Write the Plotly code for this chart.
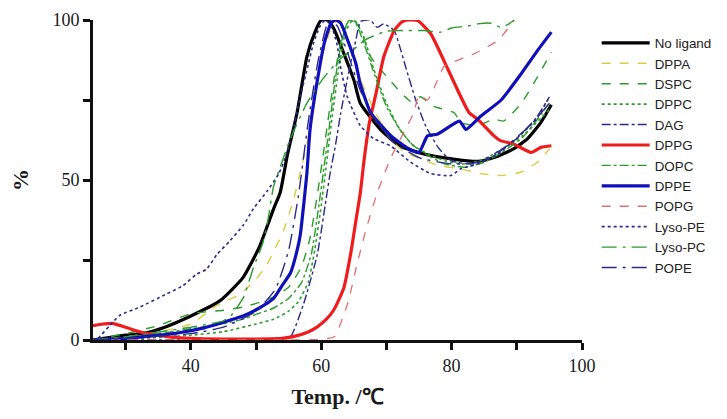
import plotly.graph_objects as go

# ---- data ----
no_ligand_x = [25, 30, 33, 36, 40, 44.5, 48, 50.5, 52.7, 53.7, 54.8, 56.3, 57.8, 59, 60, 61, 62, 63, 65, 66, 69, 72, 76, 80, 84, 86.5, 89.5, 91.7, 93.7, 95.3]
no_ligand_y = [0, 1.5, 2.2, 4, 7.5, 12.3, 19.5, 29, 41, 46, 57.7, 71, 88.5, 96, 100, 100, 97, 92, 81.3, 74, 66, 60.7, 58, 56.6, 55.8, 57, 59.7, 63, 68, 73.5]

dppa_x = [25, 30, 35, 40, 44, 47.6, 50, 51.7, 54.2, 55.8, 56.8, 58.3, 59.8, 61.4, 62.5, 63.2, 64, 66, 68.1, 70.6, 73, 75.5, 78, 81.4, 84.5, 87.6, 90.7, 93.2, 95]
dppa_y = [0, 1, 2.5, 5, 10.8, 14.4, 19, 23.7, 34, 44.2, 52.5, 66, 86.4, 96.7, 100, 99.5, 93.6, 81.3, 72, 62.7, 58.5, 56.5, 54.5, 53.5, 52, 51.4, 52.5, 55.6, 59.7]

dspc_x = [25, 30, 35, 40, 45, 48, 50.6, 52.7, 55, 57, 58.3, 59.3, 60.1, 61, 62, 63, 64, 65, 66, 67.6, 70.6, 73.7, 75.2, 77.3, 80.4, 81.4, 84, 86.5, 88, 90.7, 93.2, 95.3]
dspc_y = [0, 2, 4.5, 8.2, 9.3, 10.3, 11.8, 13.5, 16.5, 23, 32, 44, 55, 68, 82, 93, 99, 100, 97, 88.5, 81, 74.6, 76, 73, 71, 68, 67, 69, 68.4, 74, 82.3, 90]

dppc_x = [25, 30, 35, 40, 45, 50, 52.7, 55, 56.5, 58, 59, 60, 60.8, 61.7, 62.7, 63.7, 64.8, 65.5, 66.5, 68, 70, 72, 74, 76.5, 79, 82, 85, 88, 91, 95]
dppc_y = [0, 0.3, 0.8, 1.5, 2.6, 5, 6.5, 9, 12, 18, 28, 42, 55, 70, 85, 96, 100, 99, 95, 85, 74, 66, 61, 58, 56, 55, 56.5, 60, 64, 72]

dag_x = [25, 40, 50, 54, 55.3, 57.3, 59.4, 60.6, 61.4, 62.2, 63, 64.5, 65.3, 66, 67.5, 68.6, 69.6, 71.2, 72, 73, 74.5, 76, 78, 80, 83, 86, 90, 93, 95]
dag_y = [0, 0, 0, 0.3, 1, 11.3, 26.7, 42, 52.5, 61, 71, 86.4, 93.6, 99.5, 100, 97.7, 98.8, 96.7, 92, 85, 75, 67, 60, 56, 55, 57, 63, 69.5, 76]

dppg_x = [25, 26.5, 28, 29.5, 31, 32.5, 34.8, 37, 40, 45, 50, 54, 56, 58, 59.4, 60.8, 61.9, 62.8, 63.5, 64.5, 65.3, 66, 66.6, 67.4, 68.4, 69.6, 71.2, 72.3, 73.2, 74.8, 76.8, 78.8, 80.9, 82.7, 84, 86.5, 87.5, 89.6, 92.2, 93.7, 95.3]
dppg_y = [4.5, 5, 5.2, 4.3, 3.3, 2.4, 1.5, 0.9, 0.5, 0.3, 0.3, 0.5, 1.2, 2.5, 4.1, 6.5, 9.3, 13, 16.5, 26.7, 37, 46, 56.6, 68, 77, 88.5, 96.7, 99.3, 100, 99.8, 95.7, 87.4, 78.2, 71, 69, 63.8, 62.3, 61.2, 58.6, 60.2, 60.7]

dopc_x = [25, 30, 35, 40, 45, 48, 50, 52.7, 55, 57, 58.5, 59.5, 60.3, 61.2, 62.2, 63.2, 64.3, 65.3, 66.5, 68, 70, 72, 74, 76.5, 79, 82, 85, 88, 91, 95]
dopc_y = [0, 0.8, 2, 3.5, 5.1, 6.5, 8, 10, 13, 18, 27, 40, 52, 66, 82, 94, 100, 99, 93, 84, 73, 66, 61, 57.5, 55, 54, 55.5, 59, 63.5, 74]

dppe_x = [25, 30, 35, 38, 42, 46, 48, 50.5, 52.7, 54, 55.3, 56.3, 56.8, 57.3, 57.8, 58.3, 59.4, 60.5, 61.5, 62.2, 63, 64, 65.3, 66, 67.6, 70.6, 73.2, 75, 76.3, 77.8, 81.2, 82.2, 84.5, 87.6, 90.7, 93.2, 95.3]
dppe_y = [0, 0.5, 1.5, 2.2, 3.8, 6.2, 7.5, 10, 13, 17, 21, 28, 33, 42, 52, 66, 81, 93, 99, 100, 99, 94, 86.5, 80, 71, 64, 60, 58.6, 63.8, 64.3, 68.4, 65.8, 70, 75, 83.3, 90.5, 96.2]

popg_x = [25, 40, 50, 55, 60, 62, 64, 65.5, 66.8, 68.6, 70.6, 72.7, 74.2, 75, 76.3, 77.8, 78.8, 80.9, 83.5, 85.5, 87.1, 88.6, 89.6]
popg_y = [0, 0, 0, 0, 0.2, 1, 11, 23.7, 34, 46, 56.6, 65, 71, 76.5, 75, 81, 85.4, 87.4, 89.5, 91.6, 93.6, 97.2, 100]

lyso_pe_x = [25, 25.5, 27.6, 29.1, 32.2, 36.3, 38.8, 40.9, 42.4, 44, 46, 48.1, 49.6, 51.7, 53.5, 54.5, 55.5, 56.8, 58, 58.8, 59.8, 60.6, 61.5, 62.4, 63, 64, 66, 68, 70.6, 73.7, 76.8, 79.9, 81.4, 84, 87, 90, 93, 95]
lyso_pe_y = [0, 0, 4.6, 7.7, 10.3, 14.4, 17, 20.6, 22.1, 26.7, 31, 36, 41, 46.5, 52, 57, 64, 76, 86, 92.6, 98, 100, 98.5, 92.6, 85, 76, 67, 63, 60.7, 55.6, 52, 51.4, 53.5, 55, 58, 63, 69, 76]

lyso_pc_x = [25, 30, 35, 40, 45, 46, 48.1, 49.6, 51, 51.7, 52.7, 53.7, 55.3, 57.8, 60.4, 63, 65.5, 66.6, 68, 70, 72.2, 75.8, 78.3, 80, 82.7, 84, 86, 87.6, 88.8, 89.6]
lyso_pc_y = [0, 1, 2.5, 4, 6, 7.2, 13.4, 22.6, 30, 36, 48, 54, 63, 74, 82, 88, 91.6, 93.6, 95, 96.5, 96.7, 96.7, 96.2, 97.5, 98.2, 98.8, 99, 97.7, 98.8, 100]

pope_x = [25, 30, 40, 45, 50, 53, 55, 56.5, 58, 59.5, 60.8, 61.5, 62.5, 64, 66, 68, 71, 75, 80, 84, 88, 92, 95]
pope_y = [0, 0.5, 2, 4, 9, 16, 28, 45, 68, 87, 98, 100, 98, 90, 78, 70, 62, 57, 55, 55.5, 60, 67, 74]

x_tick_vals = [30, 40, 50, 60, 70, 80, 90, 100]
x_tick_text = ["", "40", "", "60", "", "80", "", "100"]
y_tick_vals = [0, 25, 50, 75, 100]
y_tick_text = ["0", "", "50", "", "100"]

series = [
    ("No ligand", no_ligand_x, no_ligand_y, "#000000", 3.2, "solid"),
    ("DPPA", dppa_x, dppa_y, "#dccb45", 1.4, "dash"),
    ("DSPC", dspc_x, dspc_y, "#2a9d2a", 1.4, "dash"),
    ("DPPC", dppc_x, dppc_y, "#2a9d2a", 1.6, "dot"),
    ("DAG", dag_x, dag_y, "#2a2a8c", 1.4, "dashdot"),
    ("DPPG", dppg_x, dppg_y, "#ee1c1c", 3.2, "solid"),
    ("DOPC", dopc_x, dopc_y, "#2a9d2a", 1.4, "dashdot"),
    ("DPPE", dppe_x, dppe_y, "#1010b8", 3.2, "solid"),
    ("POPG", popg_x, popg_y, "#e07070", 1.3, "dash"),
    ("Lyso-PE", lyso_pe_x, lyso_pe_y, "#2a2a8c", 1.6, "dot"),
    ("Lyso-PC", lyso_pc_x, lyso_pc_y, "#2a9d2a", 1.4, "longdashdot"),
    ("POPE", pope_x, pope_y, "#2a2a8c", 1.4, "longdashdot"),
]

fig = go.Figure()
for name, xs, ys, color, width, dash in series:
    fig.add_trace(go.Scatter(
        x=xs, y=ys, mode="lines", name=name,
        line=dict(color=color, width=width, dash=dash, shape="spline", smoothing=0.5),
    ))

serif = "Liberation Serif, Times New Roman, serif"
tick_font = dict(family=serif, size=18, color="#1a1a1a")

# page body has an 8px margin, so the figure is offset by 8px in the window
fig.update_layout(
    width=719, height=411,
    margin=dict(l=85, r=145, t=12, b=79, autoexpand=False),
    paper_bgcolor="white", plot_bgcolor="white",
    showlegend=True,
    legend=dict(
        x=1.03, y=0.976, xanchor="left", yanchor="top",
        font=dict(family="Liberation Sans, Arial, sans-serif", size=13.4, color="#222"),
        bgcolor="rgba(0,0,0,0)", tracegroupgap=0, itemwidth=48,
    ),
    xaxis=dict(
        range=[25, 100], tickmode="array", tickvals=x_tick_vals, ticktext=x_tick_text,
        showgrid=False, zeroline=False, showline=True, linecolor="#111", linewidth=3,
        ticks="outside", ticklen=7, tickwidth=3, tickcolor="#111",
        tickfont=tick_font, automargin=False, ticklabeloverflow="allow",
        title=dict(text="<b>Temp. /℃</b>", font=dict(family=serif, size=22, color="#1a1a1a"), standoff=15),
    ),
    yaxis=dict(
        range=[0, 100], tickmode="array", tickvals=y_tick_vals, ticktext=y_tick_text,
        showgrid=False, zeroline=False, showline=True, linecolor="#111", linewidth=3,
        ticks="outside", ticklen=7, tickwidth=3, tickcolor="#111",
        tickfont=tick_font, automargin=False, ticklabeloverflow="allow",
        title=dict(text="<b>%</b>", font=dict(family=serif, size=22, color="#1a1a1a"), standoff=28),
    ),
)
fig.update_xaxes(tickprefix="<b>", ticksuffix="</b>")
fig.update_yaxes(tickprefix="<b>", ticksuffix="</b>")

fig.write_html("out.html")
